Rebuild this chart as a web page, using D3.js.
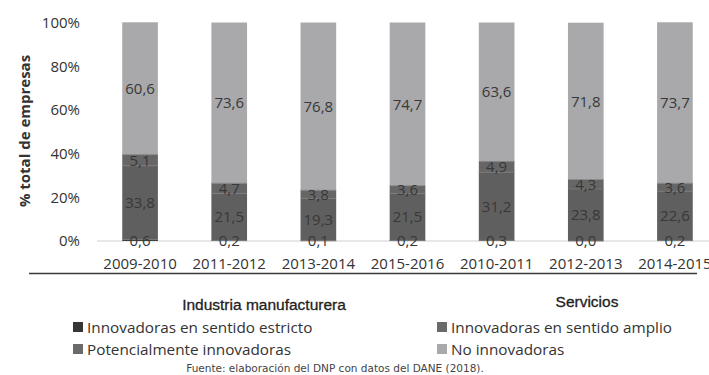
<!DOCTYPE html>
<html><head><meta charset="utf-8">
<script src="https://cdn.jsdelivr.net/npm/d3@7"></script>
<style>body{margin:0;background:#fff}svg{display:block}</style>
</head><body>
<svg id="c" width="709" height="375"></svg>
<script>
const categories = ["2009-2010","2011-2012","2013-2014","2015-2016","2010-2011","2012-2013","2014-2015"];
const strict = [0.6, 0.2, 0.1, 0.2, 0.3, 0.0, 0.2];
const amplio = [33.8, 21.5, 19.3, 21.5, 31.2, 23.8, 22.6];
const potencial = [5.1, 4.7, 3.8, 3.6, 4.9, 4.3, 3.6];
const noInnov = [60.6, 73.6, 76.8, 74.7, 63.6, 71.8, 73.7];
const seriesNames = ["Innovadoras en sentido estricto","Innovadoras en sentido amplio","Potencialmente innovadoras","No innovadoras"];
const yTicks = [0, 20, 40, 60, 80, 100];
const groupTitles = ["Industria manufacturera", "Servicios"];
const source = "Fuente: elaboración del DNP con datos del DANE (2018).";

const colors = ["#363636", "#5f5f5f", "#666666", "#a9a9ab"];
const legendColors = ["#363636", "#6a6a6a", "#6a6a6a", "#a9a9ab"];
const keys = ["s","a","p","n"];
const rows = categories.map((c,i)=>({cat:c, s:strict[i], a:amplio[i], p:potencial[i], n:noInnov[i]}));

const svg = d3.select("#c");
const font = "'Open Sans', sans-serif";
const x = d3.scaleBand().domain(categories).range([95.5, 719.5]).paddingInner(0.6).paddingOuter(0.3);
const y = d3.scaleLinear().domain([0,100]).range([241, 22.5]);

const stack = d3.stack().keys(keys)(rows);

svg.append("line").attr("x1", 97).attr("x2", 709).attr("y1", y(0)).attr("y2", y(0))
  .attr("stroke", "#d0d0d0").attr("stroke-width", 1);

const g = svg.append("g");
stack.forEach((layer, li) => {
  g.selectAll(null).data(layer).enter().append("rect")
    .attr("x", d => x(d.data.cat))
    .attr("width", x.bandwidth())
    .attr("y", d => y(d[1]))
    .attr("height", d => Math.max(0, y(d[0]) - y(d[1])))
    .attr("fill", colors[li]);
});
stack.slice(0,3).forEach((layer, li) => {
  g.selectAll(null).data(layer).enter().append("line")
    .attr("x1", d => x(d.data.cat)).attr("x2", d => x(d.data.cat) + x.bandwidth())
    .attr("y1", d => y(d[1])).attr("y2", d => y(d[1]))
    .attr("stroke", "#7a7a7a").attr("stroke-width", 0.8);
});

stack.forEach((layer, li) => {
  svg.selectAll(null).data(layer).enter().append("text")
    .attr("x", d => x(d.data.cat) + x.bandwidth()/2)
    .attr("y", d => (y(d[0]) + y(d[1]))/2)
    .attr("dy", "0.36em")
    .attr("text-anchor", "middle")
    .attr("font-family", font).attr("font-size", 15)
    .attr("fill", "#383838")
    .text(d => d3.format(".1f")(d[1]-d[0]).replace(".", ","));
});

const yAxis = d3.axisLeft(y).tickValues(yTicks).tickFormat(d => d + "%").tickSize(0).tickPadding(0);
const ya = svg.append("g").attr("transform", "translate(80,0)").call(yAxis);
ya.select(".domain").remove();
ya.selectAll("text").attr("font-family", font).attr("font-size", 15).attr("fill", "#333");

const xAxis = d3.axisBottom(x).tickSize(0).tickPadding(0);
const xa = svg.append("g").attr("transform", "translate(0,258)").call(xAxis);
xa.select(".domain").remove();
xa.selectAll("text").attr("font-family", font).attr("font-size", 15).attr("fill", "#333");

svg.append("text").attr("transform", "translate(30,131) rotate(-90)")
  .attr("text-anchor", "middle").attr("font-family", font).attr("font-weight", "bold")
  .attr("font-size", 15).attr("fill", "#333").text("% total de empresas");

svg.append("line").attr("x1", 29).attr("x2", 697).attr("y1", 273.5).attr("y2", 273.5)
  .attr("stroke", "#3a3a3a").attr("stroke-width", 1.5);

const tfont = "'Liberation Sans', Arial, sans-serif";
svg.append("text").attr("x", 264).attr("y", 310).attr("text-anchor", "middle")
  .attr("font-family", tfont).attr("font-size", 15.5).attr("fill", "#222")
  .attr("stroke", "#222").attr("stroke-width", 0.3).text(groupTitles[0]);
svg.append("text").attr("x", 587).attr("y", 307).attr("text-anchor", "middle")
  .attr("font-family", tfont).attr("font-size", 15.5).attr("fill", "#222")
  .attr("stroke", "#222").attr("stroke-width", 0.3).text(groupTitles[1]);

const legPos = [[73, 327], [437, 327], [73, 349], [437, 349]];
seriesNames.forEach((n, i) => {
  const [lx, ly] = legPos[i];
  svg.append("rect").attr("x", lx).attr("y", ly - 5).attr("width", 10).attr("height", 10).attr("fill", legendColors[i]);
  svg.append("text").attr("x", lx + 14).attr("y", ly).attr("dy", "0.36em")
    .attr("font-family", font).attr("font-size", 15.3).attr("fill", "#333").text(n);
});

svg.append("text").attr("x", 335).attr("y", 368).attr("dy", "0.36em").attr("text-anchor", "middle")
  .attr("font-family", "'DejaVu Sans', sans-serif").attr("font-size", 10.5).attr("fill", "#444").text(source);
</script>
</body></html>
